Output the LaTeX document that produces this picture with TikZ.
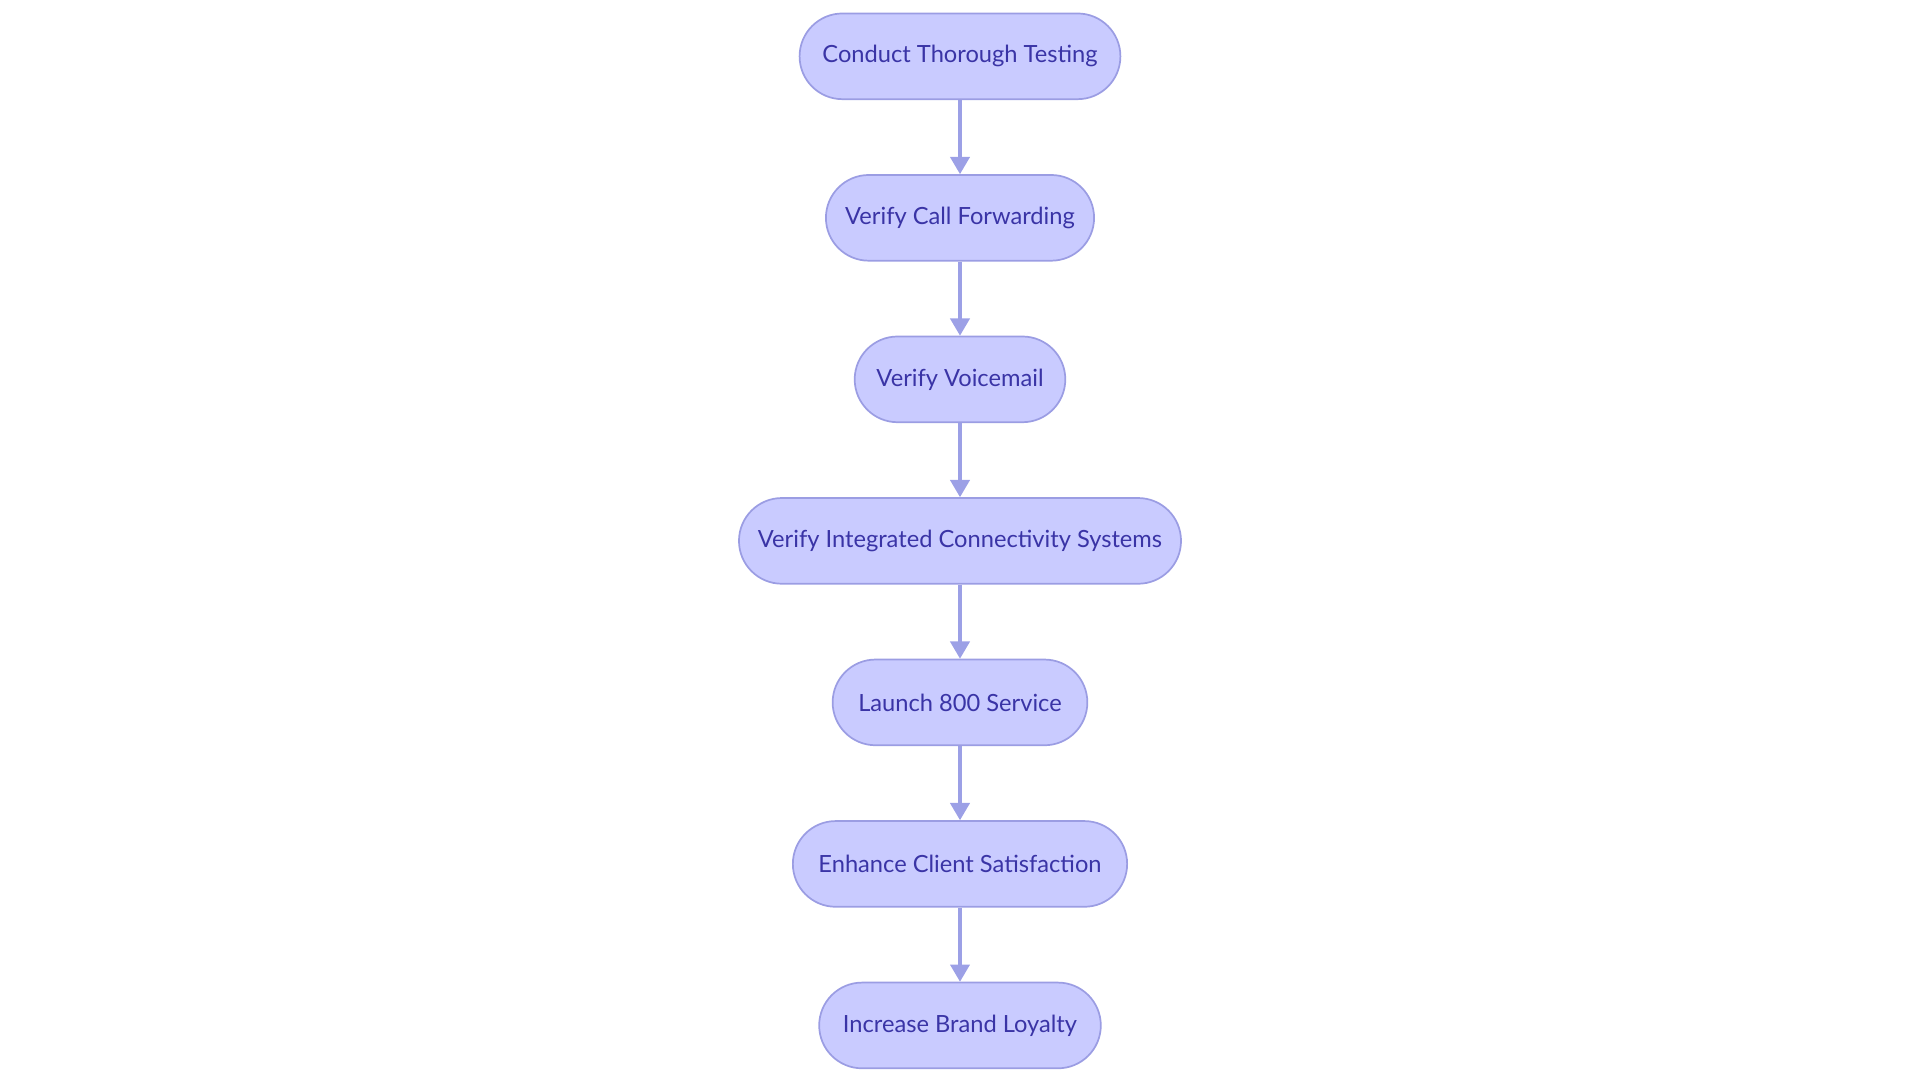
\documentclass[tikz,border=0pt]{standalone}
\usepackage{fontspec}
\setmainfont{Lato}
\usetikzlibrary{positioning,arrows.meta}
\definecolor{stepfill}{HTML}{C9CBFF}
\definecolor{stepline}{HTML}{9B9DE3}
\definecolor{steptext}{HTML}{3A34A6}
\definecolor{flowline}{HTML}{9CA0E6}
\begin{document}
\begin{tikzpicture}[
        stage/.style={draw=stepline, fill=stepfill, text=steptext, rounded corners=0.7cm,
            minimum height=1.4cm, font=\fontsize{11}{13}\selectfont, line width=0.8pt},
        flow/.style={draw=flowline, line width=1.4pt, -{Triangle[length=8pt,width=9pt]}},
        node distance=1.21cm
    ]
        \useasboundingbox (-15.68,0.88) rectangle (15.68,-16.76);
        \node[stage, minimum width=5.24cm] (testing) at (0,-0.04) {Conduct Thorough Testing};
        \node[stage, minimum width=4.38cm, below=of testing] (forwarding) {Verify Call Forwarding};
        \node[stage, minimum width=3.44cm, below=of forwarding] (voicemail) {Verify Voicemail};
        \node[stage, minimum width=7.22cm, below=of voicemail] (systems) {Verify Integrated Connectivity Systems};
        \node[stage, minimum width=4.16cm, below=of systems] (launch) {Launch 800 Service};
        \node[stage, minimum width=5.46cm, below=of launch] (satisfaction) {Enhance Client Satisfaction};
        \node[stage, minimum width=4.60cm, below=of satisfaction] (loyalty) {Increase Brand Loyalty};
        \draw[flow] (testing) -- (forwarding);
        \draw[flow] (forwarding) -- (voicemail);
        \draw[flow] (voicemail) -- (systems);
        \draw[flow] (systems) -- (launch);
        \draw[flow] (launch) -- (satisfaction);
        \draw[flow] (satisfaction) -- (loyalty);
    \end{tikzpicture}
\end{document}
